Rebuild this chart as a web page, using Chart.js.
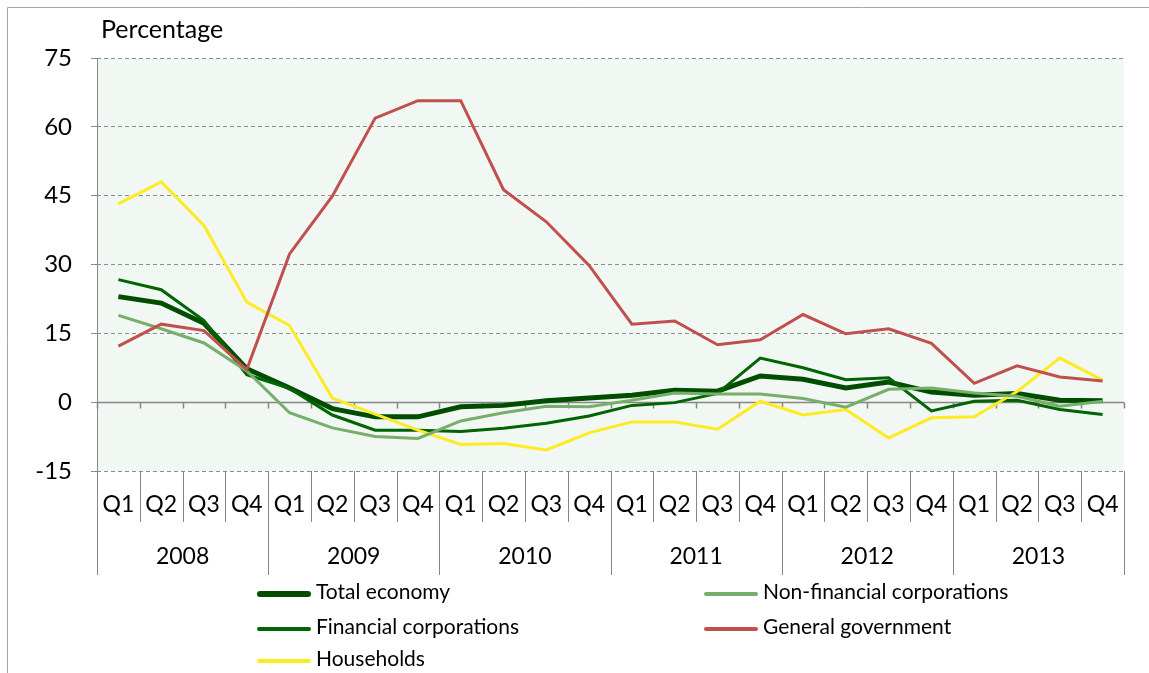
<!DOCTYPE html>
<html>
<head>
<meta charset="utf-8">
<script src="https://cdn.jsdelivr.net/npm/chart.js@4.4.0/dist/chart.umd.min.js"></script>
<style>
  body { margin: 0; background: #fff; font-family: Lato, "Liberation Sans", sans-serif; }
  #wrap { position: relative; width: 1149px; height: 673px; }
  #chart { position: absolute; left: 0; top: 0; }
  .legend { position: absolute; font-size: 21px; color: #000; line-height: 24px; white-space: nowrap; }
  .legend span.sw { display: inline-block; width: 54px; vertical-align: middle; border-radius: 3px; margin-right: 5px; }
</style>
</head>
<body>
<div id="wrap">
  <canvas id="chart" width="1149" height="673"></canvas>
  <div class="legend" style="left:257px; top:579px;"><span class="sw" style="height:6px;background:#004d00"></span>Total economy</div>
  <div class="legend" style="left:704px; top:579px;"><span class="sw" style="height:4px;background:#77ae6a"></span>Non-financial corporations</div>
  <div class="legend" style="left:257px; top:614px;"><span class="sw" style="height:4px;background:#006400"></span>Financial corporations</div>
  <div class="legend" style="left:704px; top:614px;"><span class="sw" style="height:4px;background:#c0504d"></span>General government</div>
  <div class="legend" style="left:257px; top:646px;"><span class="sw" style="height:4px;background:#ffeb24"></span>Households</div>
</div>
<script>
// data
const quarters = ["Q1","Q2","Q3","Q4","Q1","Q2","Q3","Q4","Q1","Q2","Q3","Q4",
                  "Q1","Q2","Q3","Q4","Q1","Q2","Q3","Q4","Q1","Q2","Q3","Q4"];
const years = ["2008","2009","2010","2011","2012","2013"];
const yTicks = [-15, 0, 15, 30, 45, 60, 75];

const totalEconomy = [23.0,21.6,17.2,7.3, 3.1,-1.4,-3.2,-3.2, -1.0,-0.7,0.3,0.9,
                      1.5,2.6,2.4,5.7, 5.0,3.1,4.4,2.2, 1.5,1.9,0.4,0.3];
const nonFinancial = [18.9,16.0,12.9,6.8, -2.3,-5.6,-7.5,-7.9, -4.1,-2.3,-0.9,-1.0,
                      0.4,2.0,1.8,1.8, 0.8,-1.1,2.8,3.1, 2.0,1.3,-0.9,0.2];
const financial = [26.7,24.5,17.8,6.0, 3.0,-2.8,-6.1,-6.1, -6.4,-5.7,-4.6,-3.0,
                   -0.7,-0.1,1.9,9.6, 7.5,4.9,5.3,-1.9, 0.2,0.4,-1.6,-2.7];
const government = [12.2,17.0,15.6,7.1, 32.3,44.9,61.9,65.7, 65.7,46.3,39.3,29.8,
                    17.0,17.7,12.5,13.6, 19.1,14.9,16.0,12.8, 4.1,7.9,5.5,4.6];
const households = [43.2,48.0,38.5,21.8, 16.7,0.9,-2.6,-6.1, -9.2,-9.0,-10.4,-6.7,
                    -4.3,-4.3,-5.9,0.2, -2.8,-1.6,-7.8,-3.4, -3.2,2.3,9.6,4.8];

const series = [
  { label: "General government", data: government, color: "#c0504d", width: 3 },
  { label: "Non-financial corporations", data: nonFinancial, color: "#77ae6a", width: 3 },
  { label: "Households", data: households, color: "#ffeb24", width: 3 },
  { label: "Financial corporations", data: financial, color: "#006400", width: 3 },
  { label: "Total economy", data: totalEconomy, color: "#004d00", width: 5 }
];

const FONT = "Lato, 'Liberation Sans', sans-serif";

// background, zero line, frame, category separators, title
const decor = {
  id: "decor",
  beforeDraw(chart) {
    const { ctx, chartArea: a } = chart;
    ctx.save();
    ctx.fillStyle = "#f1f7f3";
    ctx.fillRect(a.left, a.top, a.right - a.left, a.bottom - a.top);
    // frame
    ctx.strokeStyle = "#a6a6a6";
    ctx.lineWidth = 1;
    ctx.beginPath();
    ctx.moveTo(7.5, 673); ctx.lineTo(7.5, 7.5); ctx.lineTo(1149, 7.5);
    ctx.stroke();
    ctx.restore();
  },
  beforeDatasetsDraw(chart) {
    const { ctx, chartArea: a, scales } = chart;
    const x = scales.x, y = scales.y;
    const n = quarters.length;
    const edge = i => {
      let px;
      if (i === 0) px = a.left;
      else if (i === n) px = a.right;
      else px = (x.getPixelForValue(i - 1) + x.getPixelForValue(i)) / 2;
      return Math.round(px) + 0.5;
    };
    ctx.save();
    ctx.strokeStyle = "#868686";
    ctx.lineWidth = 1.5;
    const y0 = Math.round(y.getPixelForValue(0)) + 0.5;
    ctx.beginPath();
    ctx.moveTo(a.left, y0); ctx.lineTo(a.right, y0);
    for (let i = 0; i <= n; i++) {
      const px = edge(i);
      ctx.moveTo(px, y0); ctx.lineTo(px, y0 + 6);
    }
    ctx.stroke();
    ctx.lineWidth = 1;
    ctx.beginPath();
    for (let i = 0; i <= n; i++) {
      const px = edge(i);
      const len = (i % 4 === 0) ? 104 : 51;
      ctx.moveTo(px, a.bottom); ctx.lineTo(px, a.bottom + len);
    }
    // y axis line
    ctx.moveTo(a.left + 0.5, a.top); ctx.lineTo(a.left + 0.5, a.bottom);
    ctx.stroke();
    // title
    ctx.fillStyle = "#000";
    ctx.font = "25px " + FONT;
    ctx.textBaseline = "alphabetic";
    ctx.textAlign = "left";
    ctx.fillText("Percentage", a.left + 4, a.top - 20);
    ctx.restore();
  }
};

new Chart(document.getElementById("chart"), {
  type: "line",
  data: {
    labels: quarters,
    datasets: series.map(s => ({
      label: s.label,
      data: s.data,
      borderColor: s.color,
      backgroundColor: s.color,
      borderWidth: s.width,
      pointRadius: 0,
      tension: 0,
      xAxisID: "x",
      yAxisID: "y"
    }))
  },
  options: {
    responsive: false,
    animation: false,
    layout: { padding: { top: 58, right: 25, bottom: 98, left: 0 } },
    plugins: { legend: { display: false }, tooltip: { enabled: false } },
    scales: {
      y: {
        min: -15, max: 75,
        afterBuildTicks(scale) { scale.ticks = yTicks.map(v => ({ value: v })); },
        afterFit(scale) { scale.width = 97; },
        grid: { color: "#8c8c8c", lineWidth: 1, tickLength: 6, drawOnChartArea: true,
                tickColor: "#8c8c8c" },
        border: { display: false, dash: [4, 3] },
        ticks: { color: "#000", font: { size: 24, family: FONT }, padding: 19 }
      },
      x: {
        type: "category",
        offset: true,
        grid: { display: false, drawTicks: false },
        border: { display: false },
        afterFit(scale) { scale.height = 51; },
        ticks: { color: "#000", font: { size: 23, family: FONT }, padding: 20, maxRotation: 0, autoSkip: false }
      },
      x2: {
        type: "category",
        position: "bottom",
        labels: years,
        offset: true,
        grid: { display: false, drawTicks: false },
        border: { display: false },
        afterFit(scale) { scale.height = 53; },
        ticks: { color: "#000", font: { size: 23, family: FONT }, padding: 21, maxRotation: 0, autoSkip: false }
      }
    }
  },
  plugins: [decor]
});
</script>
</body>
</html>
